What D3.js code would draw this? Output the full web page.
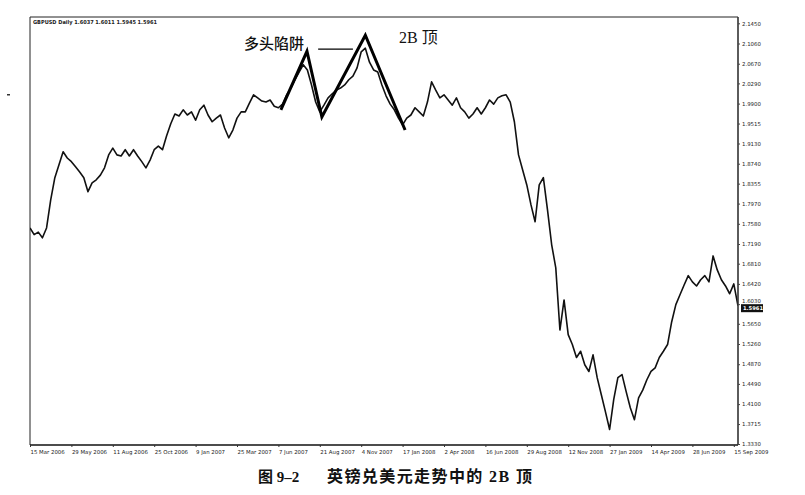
<!DOCTYPE html>
<html>
<head>
<meta charset="utf-8">
<script src="https://cdn.jsdelivr.net/npm/d3@7/dist/d3.min.js"></script>
<style>
  html, body { margin: 0; padding: 0; background: #fff; }
  svg { display: block; }
</style>
</head>
<body>
<svg id="chart" width="805" height="495"></svg>
<script>
// ---- DATA ----
// x-axis tick labels, one every 10 samples
const tickLabels = ["15 Mar 2006","29 May 2006","11 Aug 2006","25 Oct 2006","9 Jan 2007","25 Mar 2007",
  "7 Jun 2007","21 Aug 2007","4 Nov 2007","17 Jan 2008","2 Apr 2008","16 Jun 2008","29 Aug 2008",
  "12 Nov 2008","27 Jan 2009","14 Apr 2009","28 Jun 2009","15 Sep 2009"];
const tickEvery = 10;
// price-axis tick labels
const priceTicks = [2.1450,2.1060,2.0670,2.0290,1.9900,1.9515,1.9130,1.8740,1.8355,1.7970,1.7580,
  1.7190,1.6810,1.6420,1.6030,1.5650,1.5260,1.4870,1.4490,1.4100,1.3715,1.3330];
const priceMin = 1.3330, priceMax = 2.1450;
// GBPUSD close, sampled ~weekly (sample index = position in array)
const closes = [
  1.750,1.737,1.742,1.731,1.750,1.804,1.847,1.872,1.897,1.885,
  1.878,1.868,1.858,1.847,1.820,1.837,1.843,1.852,1.866,1.891,
  1.904,1.891,1.889,1.901,1.889,1.901,1.889,1.878,1.866,1.881,
  1.901,1.908,1.901,1.928,1.951,1.970,1.966,1.978,1.968,1.974,
  1.958,1.978,1.987,1.968,1.955,1.962,1.968,1.943,1.924,1.939,
  1.962,1.974,1.974,1.991,2.007,2.001,1.995,1.993,1.997,1.985,
  1.982,1.989,2.007,2.020,2.036,2.051,2.065,2.055,2.026,1.993,
  1.974,1.987,2.001,2.009,2.016,2.020,2.026,2.036,2.043,2.059,
  2.090,2.097,2.070,2.055,2.051,2.026,2.005,1.989,1.978,1.962,
  1.949,1.962,1.968,1.982,1.974,1.966,1.993,2.032,2.016,2.001,
  2.007,1.997,1.987,2.001,1.982,1.974,1.962,1.970,1.982,1.970,
  1.982,1.997,1.989,2.001,2.005,2.007,1.993,1.955,1.891,1.862,
  1.833,1.795,1.762,1.833,1.847,1.785,1.718,1.673,1.553,1.611,
  1.544,1.525,1.500,1.512,1.486,1.473,1.505,1.461,1.428,1.395,
  1.361,1.419,1.461,1.467,1.434,1.403,1.380,1.422,1.437,1.457,
  1.473,1.480,1.500,1.512,1.525,1.569,1.602,1.621,1.640,1.658,
  1.646,1.638,1.650,1.658,1.646,1.696,1.669,1.650,1.638,1.623,
  1.642,1.600
];
const lastPrice = 1.5961;
const headerText = "GBPUSD Daily  1.6037 1.6011 1.5945 1.5961";
// hand-drawn 2B pattern: [sample index, price]
const patternIdx = [60.6, 66.9, 70.5, 81.0, 90.6];
const patternPx  = [1.978, 2.091, 1.964, 2.122, 1.939];
const connectorIdx = [69.6, 78.0];
const connectorPx = 2.095;
const labelTrap = "多头陷阱";
const label2B = "2B 顶";
const captionA = "图 9–2";
const captionB = "英镑兑美元走势中的 2B 顶";

// ---- LAYOUT ----
const svg = d3.select("#chart");
const L = 30, R = 738, T = 17, B = 445;
const x = d3.scaleLinear().domain([0, (tickLabels.length - 1) * tickEvery]).range([30, 733.8]);
const y = d3.scaleLinear().domain([priceMin, priceMax]).range([444, 23.3]);

const defs = svg.append("defs");
defs.append("clipPath").attr("id", "plotclip")
  .append("rect").attr("x", L).attr("y", T).attr("width", R - L).attr("height", B - T);
defs.append("clipPath").attr("id", "pageclip")
  .append("rect").attr("x", 0).attr("y", 0).attr("width", 771).attr("height", 495);

// frame
svg.append("path")
  .attr("d", `M${L},${B}V${T}H${R}`)
  .attr("fill", "none").attr("stroke", "#222").attr("stroke-width", 1);
svg.append("line").attr("x1", L).attr("x2", R).attr("y1", B).attr("y2", B)
  .attr("stroke", "#111").attr("stroke-width", 1.4);

// price line
const line = d3.line().x((d, i) => x(i)).y(d => y(d));
svg.append("path").datum(closes)
  .attr("clip-path", "url(#plotclip)")
  .attr("d", line)
  .attr("fill", "none").attr("stroke", "#111").attr("stroke-width", 1.6)
  .attr("stroke-linejoin", "round");

// right price axis
const yAxis = d3.axisRight(y).tickValues(priceTicks).tickSize(2).tickFormat(d3.format(".4f"));
const ya = svg.append("g").attr("transform", `translate(${R},0)`).call(yAxis);
ya.select(".domain").attr("d", `M0,${T}V${B}`).attr("stroke", "#333").attr("stroke-width", 1.6);
ya.selectAll("text").attr("font-family", "DejaVu Sans").attr("font-size", 5.4)
  .attr("fill", "#222").attr("x", 4);
ya.selectAll("line").attr("stroke", "#444");
// the label hidden behind the last-price box sits a little higher
ya.selectAll(".tick").filter(d => d === 1.6030).select("text").attr("dy", "-0.35em");

// last price box
const lp = svg.append("g").attr("transform", `translate(${R + 3},${y(lastPrice)})`);
lp.append("rect").attr("x", 0).attr("y", -3.5).attr("width", 22).attr("height", 8).attr("fill", "#111");
lp.append("text").attr("x", 2).attr("y", 2.6).attr("font-family", "DejaVu Sans").attr("font-size", 5.2)
  .attr("font-weight", "bold").attr("fill", "#fff").text(d3.format(".4f")(lastPrice));

// bottom date axis
const xAxis = d3.axisBottom(x).tickValues(d3.range(tickLabels.length).map(i => i * tickEvery))
  .tickSize(2).tickFormat((d, i) => tickLabels[i]);
const xa = svg.append("g").attr("transform", `translate(0,${B})`).attr("clip-path", "url(#pageclip)").call(xAxis);
xa.select(".domain").remove();
xa.selectAll("line").attr("stroke", "#333");
xa.selectAll("text").attr("font-family", "DejaVu Sans").attr("font-size", 5.4)
  .attr("fill", "#222").attr("text-anchor", "start").attr("dy", 0).attr("y", 9);

// header
svg.append("text").attr("x", 33).attr("y", 24).attr("font-family", "DejaVu Sans")
  .attr("font-size", 5.4).attr("font-weight", "bold").attr("fill", "#222")
  .attr("textLength", 124).attr("lengthAdjust", "spacingAndGlyphs").text(headerText);

// stray mark left
svg.append("rect").attr("x", 7).attr("y", 94).attr("width", 3).attr("height", 1.5).attr("fill", "#333");

// 2B pattern thick lines
const pat = patternIdx.map((d, i) => [x(d), y(patternPx[i])]);
svg.append("path").attr("d", d3.line()(pat)).attr("fill", "none")
  .attr("stroke", "#000").attr("stroke-width", 3).attr("stroke-linejoin", "miter");
svg.append("line").attr("x1", x(connectorIdx[0])).attr("x2", x(connectorIdx[1]))
  .attr("y1", y(connectorPx)).attr("y2", y(connectorPx)).attr("stroke", "#000").attr("stroke-width", 1.2);

svg.append("text").attr("x", 244).attr("y", 49).attr("font-family", "Noto Sans CJK SC")
  .attr("font-size", 15).attr("font-weight", 500).attr("fill", "#111").text(labelTrap);
svg.append("text").attr("x", 399).attr("y", 43).attr("font-family", "Liberation Serif, Noto Sans CJK SC")
  .attr("font-size", 16).attr("fill", "#111").text(label2B);

// caption
const cap = svg.append("text").attr("y", 482).attr("font-family", "Liberation Serif, Noto Sans CJK SC")
  .attr("font-weight", "bold").attr("fill", "#111");
cap.append("tspan").attr("x", 258).attr("font-size", 15).text(captionA);
cap.append("tspan").attr("x", 327).attr("font-size", 16).attr("textLength", 205).attr("lengthAdjust", "spacing").text(captionB);
</script>
</body>
</html>
